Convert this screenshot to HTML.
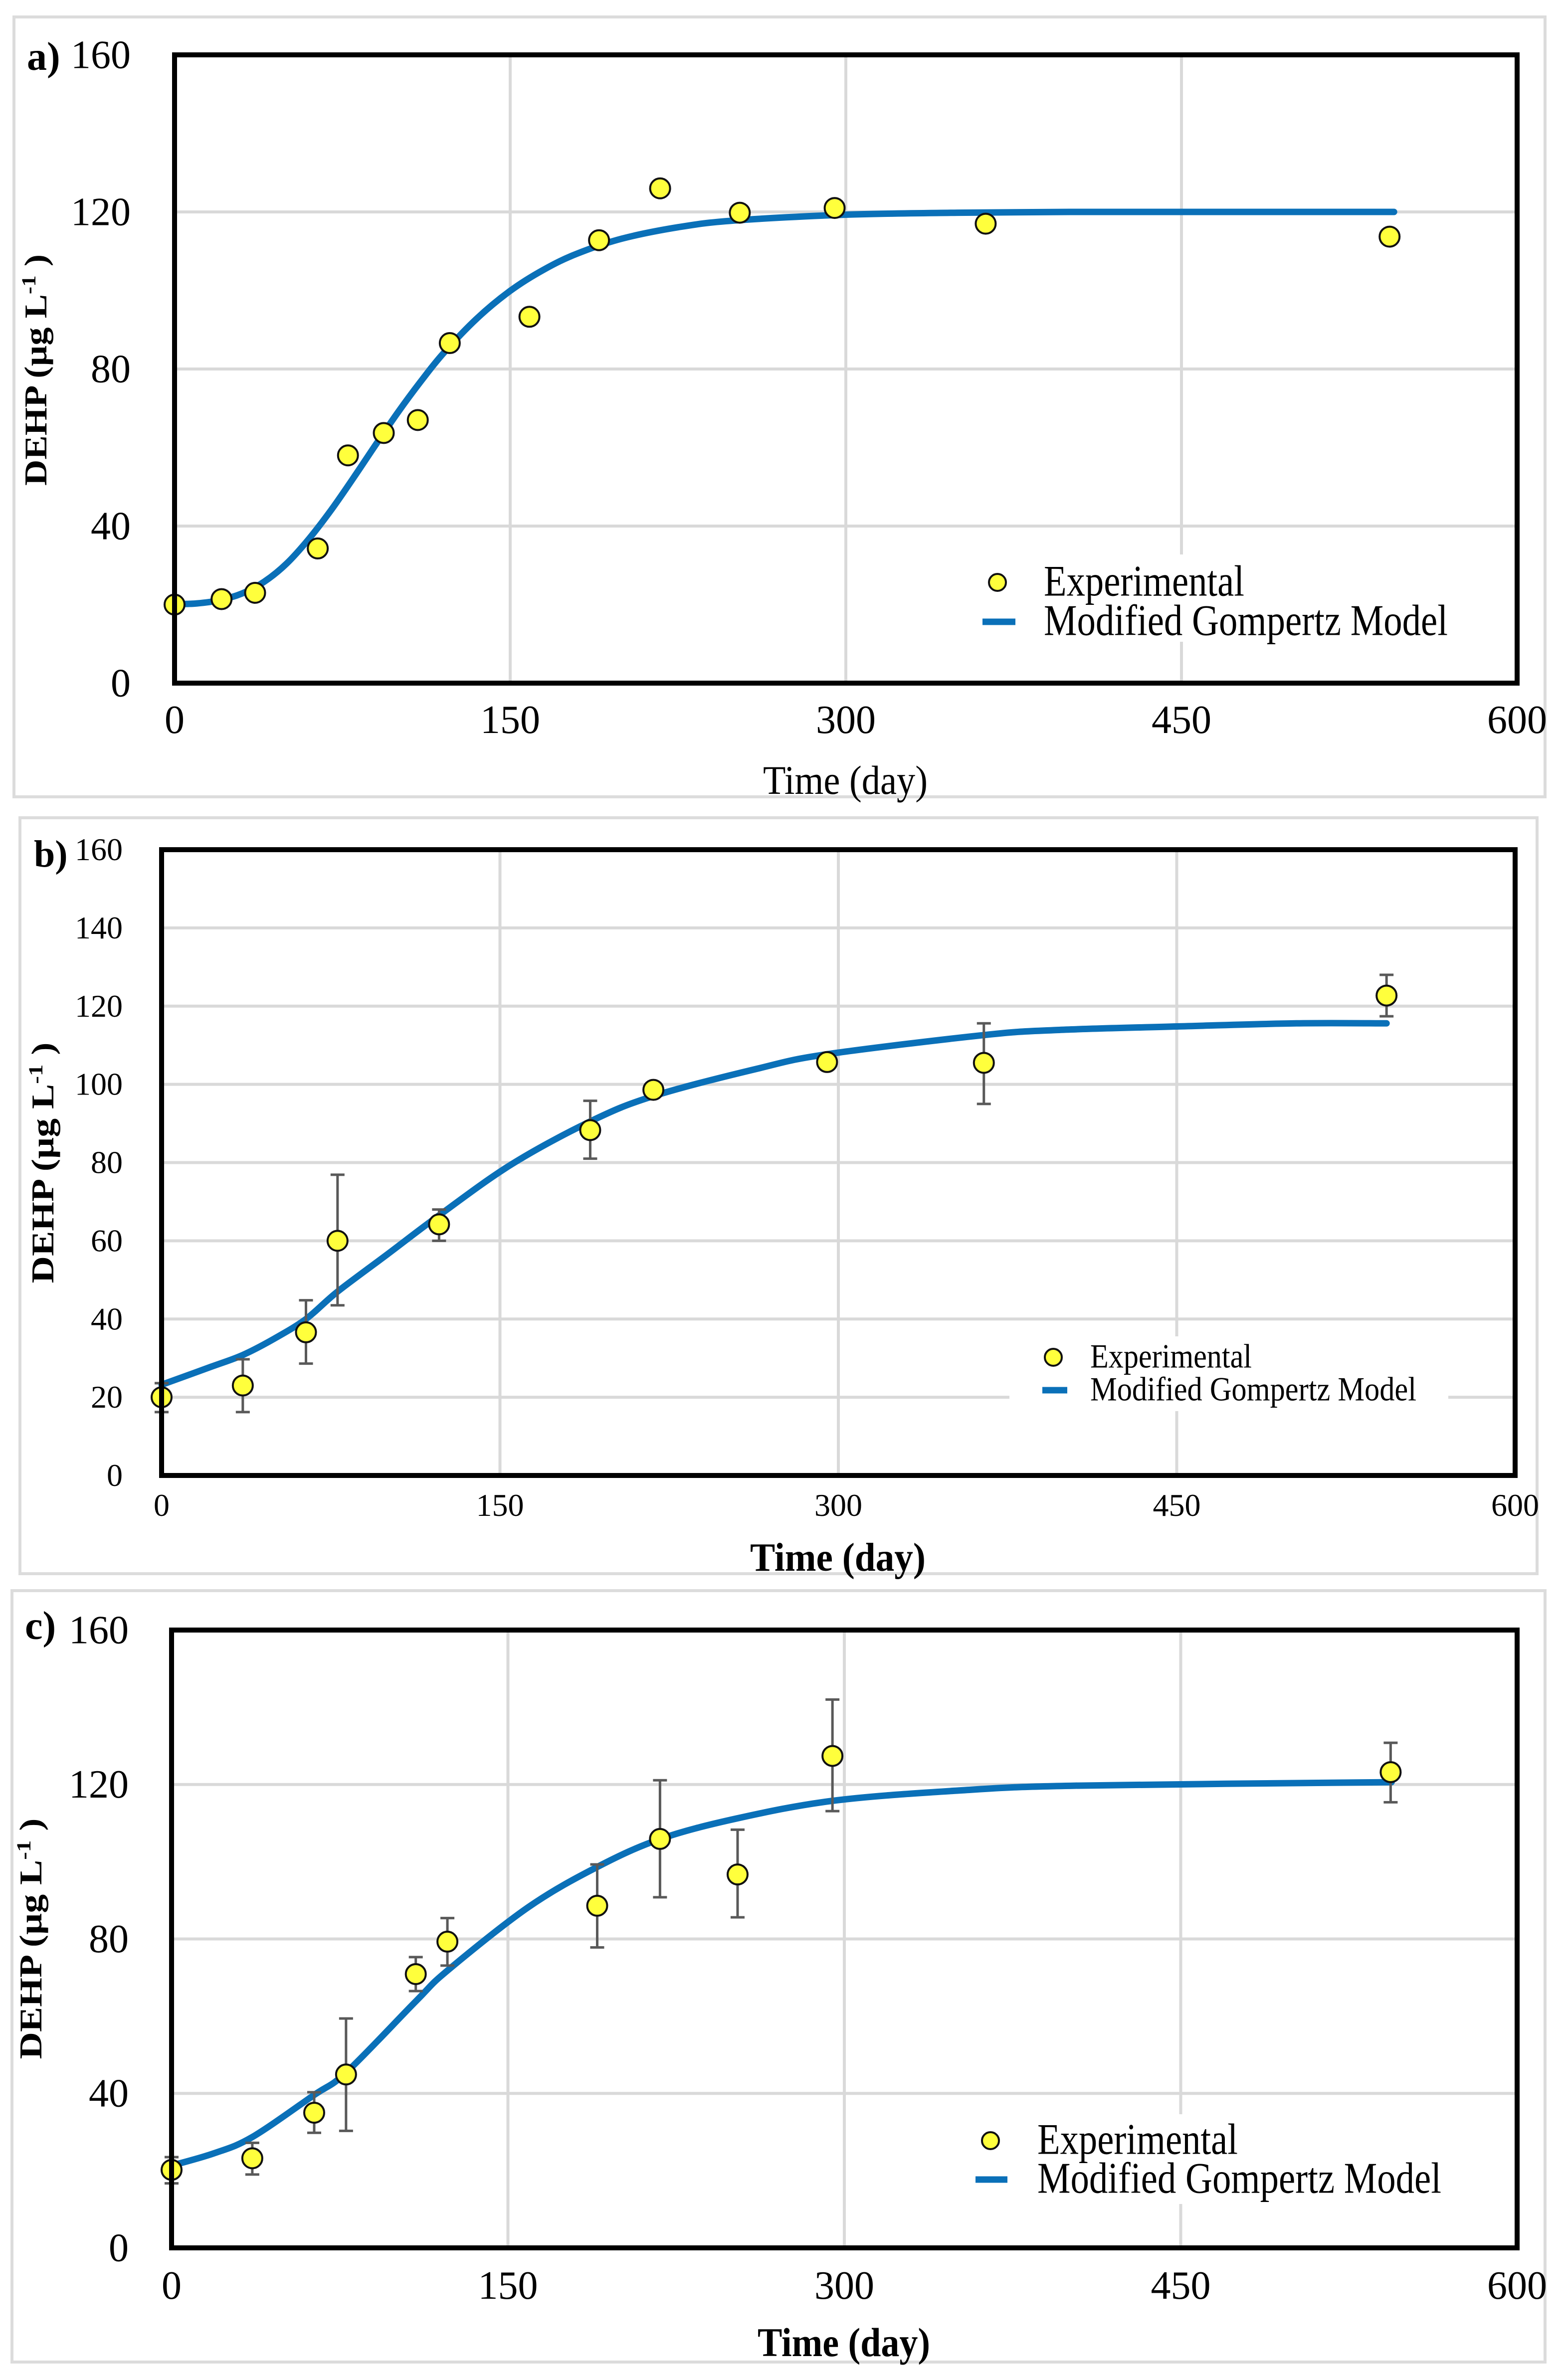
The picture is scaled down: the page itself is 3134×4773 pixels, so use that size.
<!DOCTYPE html>
<html><head><meta charset="utf-8"><title>DEHP Modified Gompertz</title>
<style>html,body{margin:0;padding:0;background:#fff}svg{display:block}</style></head>
<body>
<svg id="fig" xmlns="http://www.w3.org/2000/svg" width="3134" height="4773" viewBox="0 0 3134 4773" font-family="'Liberation Serif', serif"></svg>
<script>
// ---- Panel a data ----
const aDays = [0, 21, 36, 64, 77.5, 93.5, 108.7, 123, 158.6, 189.7, 217, 252.6, 295, 362.5, 543];
const aValues = [20, 21.4, 23, 34.3, 58, 63.7, 67, 86.6, 93.3, 112.8, 126, 119.8, 121, 117, 113.7];
const aCurveDays = [0, 10, 20, 30, 40, 50, 60, 70, 80, 90, 100, 110, 120, 135, 150, 165, 180, 200, 225, 250, 300, 350, 400, 450, 500, 545];
const aCurveValues = [20.1, 20.3, 21.1, 22.8, 25.8, 30.4, 36.7, 44.1, 52.3, 60.8, 69.1, 76.8, 83.9, 92.8, 99.9, 105.3, 109.4, 113.2, 116.1, 117.8, 119.3, 119.8, 120, 120, 120, 120];
// ---- Panel b data ----
const bDays = [0, 36, 64, 78, 123, 190, 218, 295, 364.5, 543];
const bValues = [20, 23, 36.6, 60, 64.2, 88.3, 98.6, 105.7, 105.5, 122.7];
const bErrLow = [16.2, 16.2, 28.6, 43.5, 60, 81, 96.9, 104.7, 95, 117.4];
const bErrHigh = [23.6, 29.7, 44.8, 76.9, 68, 95.8, 100.3, 106.7, 115.6, 128];
const bCurveDays = [0, 22, 36, 50, 64, 78, 100, 123, 155, 190, 218, 264, 295, 364.5, 397, 450, 503, 543];
const bCurveValues = [23.2, 27.8, 30.8, 35, 40, 47, 56.5, 66.5, 79.5, 90.5, 97, 104, 107.7, 112.6, 113.9, 114.8, 115.6, 115.6];
// ---- Panel c data ----
const cDays = [0, 36, 63.6, 77.8, 108.9, 123, 189.8, 217.8, 252.4, 294.7, 543.6];
const cValues = [20.2, 23.2, 35, 44.9, 70.9, 79.3, 88.6, 105.9, 96.7, 127.4, 123.2];
const cErrLow = [16.7, 19, 29.8, 30.3, 66.5, 73.1, 77.8, 90.8, 85.6, 113.1, 115.4];
const cErrHigh = [23.5, 27.2, 40.3, 59.4, 75.3, 85.4, 99.3, 121.1, 108.3, 142, 130.8];
const cCurveDays = [0, 19, 36, 63.6, 78, 109, 123, 159, 190, 218, 252, 295, 350, 403, 544];
const cCurveValues = [21.3, 24.5, 28.7, 39.6, 45.5, 63.9, 71.8, 88.2, 98.7, 105.9, 111.2, 115.8, 118.4, 119.7, 120.6];
// ---- Axis ticks ----
const xTickValues = [0, 150, 300, 450, 600];
const yTicksA = [0, 40, 80, 120, 160];
const yTicksB = [0, 20, 40, 60, 80, 100, 120, 140, 160];
const yTicksC = [0, 40, 80, 120, 160];

const NS = "http://www.w3.org/2000/svg";
const svg = document.getElementById('fig');
function mk(tag, attrs, parent) {
  const e = document.createElementNS(NS, tag);
  for (const k in attrs) e.setAttribute(k, attrs[k]);
  (parent || svg).appendChild(e);
  return e;
}
function smoothPath(pts) {
  let d = 'M' + pts[0][0].toFixed(1) + ',' + pts[0][1].toFixed(1);
  for (let i = 0; i < pts.length - 1; i++) {
    const p0 = pts[i - 1] || pts[i], p1 = pts[i], p2 = pts[i + 1], p3 = pts[i + 2] || p2;
    const c1x = p1[0] + (p2[0] - p0[0]) / 6, c1y = p1[1] + (p2[1] - p0[1]) / 6;
    const c2x = p2[0] - (p3[0] - p1[0]) / 6, c2y = p2[1] - (p3[1] - p1[1]) / 6;
    d += 'C' + c1x.toFixed(1) + ',' + c1y.toFixed(1) + ' ' + c2x.toFixed(1) + ',' + c2y.toFixed(1) + ' ' + p2[0].toFixed(1) + ',' + p2[1].toFixed(1);
  }
  return d;
}

const panels = [
  {id:'a', outer:[28,34,3070,1564], l:350, r:3042, t:110, b:1370, label:[54,140,80],
   yTicks:yTicksA, yFont:80, yRight:262, xBase:1470, xFont:80,
   xTitle:[1695,1592,82,'normal',330], yTitle:[72,742,64,464],
   leg:{box:[1950,1112,990,175], mk:[2000,1168], tx:2093, font:88, l1:402, l2:810, line:[1970,2036,1247]},
   days:aDays, vals:aValues, lo:null, hi:null, cd:aCurveDays, cv:aCurveValues},
  {id:'b', outer:[40,1640,3042,1516], l:324, r:3038, t:1704, b:2959, label:[68,1738,76],
   yTicks:yTicksB, yFont:64, yRight:246, xBase:3040, xFont:64,
   xTitle:[1680,3150,80,'bold',352], yTitle:[86,2332,64,483],
   leg:{box:[2024,2680,880,150], mk:[2112,2722], tx:2186, font:68, l1:324, l2:654, line:[2090,2140,2788]},
   days:bDays, vals:bValues, lo:bErrLow, hi:bErrHigh, cd:bCurveDays, cv:bCurveValues},
  {id:'c', outer:[24,3190,3074,1547], l:344, r:3042, t:3269, b:4508, label:[50,3287,80],
   yTicks:yTicksC, yFont:80, yRight:258, xBase:4610, xFont:80,
   xTitle:[1692,4725,82,'bold',346], yTitle:[62,3888,64,483],
   leg:{box:[1930,4240,1000,180], mk:[1986,4293], tx:2080, font:88, l1:402, l2:810, line:[1956,2020,4371]},
   days:cDays, vals:cValues, lo:cErrLow, hi:cErrHigh, cd:cCurveDays, cv:cCurveValues}
];

panels.forEach(p => {
  const g = mk('g', {});
  
  
  const xs = d => p.l + (d / 600) * (p.r - p.l);
  const ys = v => p.b - (v / 160) * (p.b - p.t);

  const fr = mk('rect', {x:p.outer[0], y:p.outer[1], width:p.outer[2], height:p.outer[3], fill:'#fff', stroke:'#dcdcdc', 'stroke-width':6}, g);
  
  

  p.yTicks.forEach(v => {
    if (v === 0 || v === 160) return;
    const ln = mk('line', {x1:p.l, x2:p.r, y1:ys(v), y2:ys(v), stroke:'#d9d9d9', 'stroke-width':6}, g);
    
    
  });
  xTickValues.forEach(d => {
    if (d === 0 || d === 600) return;
    const ln = mk('line', {x1:xs(d), x2:xs(d), y1:p.t, y2:p.b, stroke:'#d9d9d9', 'stroke-width':6}, g);
    
    
  });

  const lb = mk('rect', {x:p.leg.box[0], y:p.leg.box[1], width:p.leg.box[2], height:p.leg.box[3], fill:'#fff'}, g);
  
  

  const pts = p.cd.map((d, i) => [xs(d), ys(p.cv[i])]);
  const cur = mk('path', {d:smoothPath(pts), fill:'none', stroke:'#0a70b8', 'stroke-width':13, 'stroke-linejoin':'round', 'stroke-linecap':'round'}, g);
  
  

  if (p.lo) {
    p.days.forEach((d, i) => {
      const x = xs(d), y1 = ys(p.lo[i]), y2 = ys(p.hi[i]);
      const eb = mk('path', {d:`M${x},${y1}V${y2}M${x-14},${y1}H${x+14}M${x-14},${y2}H${x+14}`, stroke:'#595959', 'stroke-width':5, fill:'none'}, g);
      
      
    });
  }
  p.days.forEach((d, i) => {
    const c = mk('circle', {cx:xs(d), cy:ys(p.vals[i]), r:20, fill:'#ffff3c', stroke:'#111', 'stroke-width':4}, g);
    
    
  });

  const pf = mk('rect', {x:p.l, y:p.t, width:p.r-p.l, height:p.b-p.t, fill:'none', stroke:'#000', 'stroke-width':10}, g);
  
  

  p.yTicks.forEach(v => {
    const t = mk('text', {x:p.yRight, y:ys(v) + p.yFont*0.33, 'text-anchor':'end', 'font-size':p.yFont}, g);
    t.textContent = v;
    
    
  });
  xTickValues.forEach(d => {
    const t = mk('text', {x:xs(d), y:p.xBase, 'text-anchor':'middle', 'font-size':p.xFont}, g);
    t.textContent = d;
    
    
  });

  const pl = mk('text', {x:p.label[0], y:p.label[1], 'font-size':p.label[2], 'font-weight':'bold'}, g);
  pl.textContent = p.id + ')';
  
  

  const xt = mk('text', {x:p.xTitle[0], y:p.xTitle[1], 'text-anchor':'middle', 'font-size':p.xTitle[2], 'font-weight':p.xTitle[3], textLength:p.xTitle[4], lengthAdjust:'spacingAndGlyphs'}, g);
  xt.textContent = 'Time (day)';
  
  

  const yt = mk('text', {x:0, y:0, 'text-anchor':'middle', 'font-size':p.yTitle[2], 'font-weight':'bold', textLength:p.yTitle[3], lengthAdjust:'spacingAndGlyphs', transform:`translate(${p.yTitle[0] + p.yTitle[2]*0.33},${p.yTitle[1]}) rotate(-90)`}, g);
  yt.innerHTML = 'DEHP (µg L<tspan dy="-22" font-size="40">-1</tspan><tspan dy="22"> )</tspan>';
  
  

  const lm = mk('circle', {cx:p.leg.mk[0], cy:p.leg.mk[1], r:17, fill:'#ffff3c', stroke:'#111', 'stroke-width':4}, g);
  
  
  const l1 = mk('text', {x:p.leg.tx, y:p.leg.mk[1] + p.leg.font*0.3, 'font-size':p.leg.font, textLength:p.leg.l1, lengthAdjust:'spacingAndGlyphs'}, g);
  l1.textContent = 'Experimental';
  
  
  const ll = mk('line', {x1:p.leg.line[0], x2:p.leg.line[1], y1:p.leg.line[2], y2:p.leg.line[2], stroke:'#0a70b8', 'stroke-width':13}, g);
  
  
  const l2 = mk('text', {x:p.leg.tx, y:p.leg.line[2] + p.leg.font*0.3, 'font-size':p.leg.font, textLength:p.leg.l2, lengthAdjust:'spacingAndGlyphs'}, g);
  l2.textContent = 'Modified Gompertz Model';
  
  
});
</script>
</body></html>
